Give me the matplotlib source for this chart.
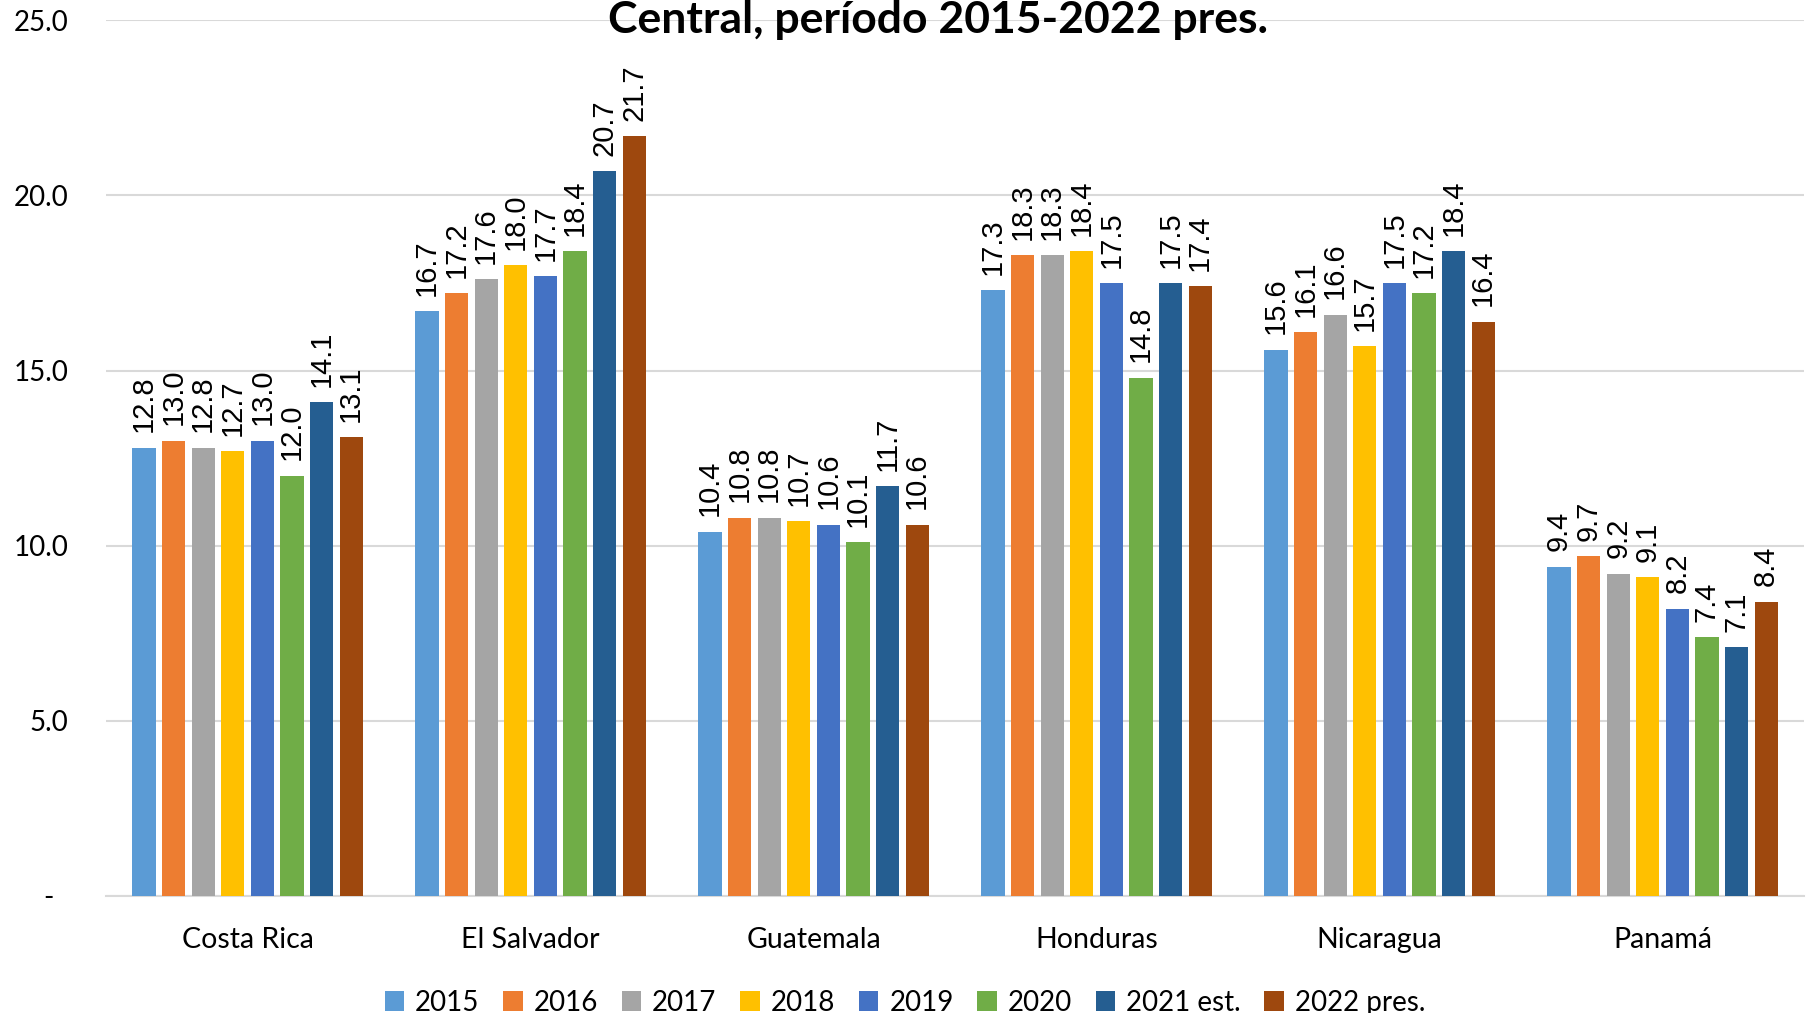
import numpy as np
import matplotlib.pyplot as plt

plt.rcParams['font.family'] = ['Lato', 'DejaVu Sans']

countries = ['Costa Rica', 'El Salvador', 'Guatemala', 'Honduras', 'Nicaragua', 'Panamá']
years = ['2015', '2016', '2017', '2018', '2019', '2020', '2021 est.', '2022 pres.']

v2015 = [12.8, 16.7, 10.4, 17.3, 15.6, 9.4]
v2016 = [13.0, 17.2, 10.8, 18.3, 16.1, 9.7]
v2017 = [12.8, 17.6, 10.8, 18.3, 16.6, 9.2]
v2018 = [12.7, 18.0, 10.7, 18.4, 15.7, 9.1]
v2019 = [13.0, 17.7, 10.6, 17.5, 17.5, 8.2]
v2020 = [12.0, 18.4, 10.1, 14.8, 17.2, 7.4]
v2021 = [14.1, 20.7, 11.7, 17.5, 18.4, 7.1]
v2022 = [13.1, 21.7, 10.6, 17.4, 16.4, 8.4]
series = [v2015, v2016, v2017, v2018, v2019, v2020, v2021, v2022]

colors = ['#5B9BD5', '#ED7D31', '#A5A5A5', '#FFC000', '#4472C4', '#70AD47', '#255E91', '#9E480E']

yticks = [0, 5, 10, 15, 20, 25]
ytick_labels = ['-  ', '5.0', '10.0', '15.0', '20.0', '25.0']

fig = plt.figure(figsize=(18.10, 10.13), dpi=100)
ax = fig.add_axes([0.0586, 0.1155, 0.9381, 0.8645])

x = np.arange(len(countries))
step = 0.1046
width = 0.082
for i, vals in enumerate(series):
    pos = x + (i - 3.5) * step
    bars = ax.bar(pos, vals, width, color=colors[i], label=years[i], zorder=3)
    for b, v in zip(bars, vals):
        ax.annotate(f'{v:.1f}', (b.get_x() + b.get_width() / 2, v), xytext=(0, 11),
                    textcoords='offset points', rotation=90, ha='center', va='bottom',
                    fontsize=21, family=['Liberation Sans', 'DejaVu Sans'], zorder=4)

ax.set_xlim(-0.5, len(countries) - 0.5)
ax.set_ylim(0, 25)
ax.set_yticks(yticks)
ax.set_yticklabels(ytick_labels, fontsize=20)
ax.set_xticks(x)
ax.set_xticklabels(countries, fontsize=20.5)
ax.tick_params(axis='x', length=0, pad=22)
ax.tick_params(axis='y', length=0, pad=27)
ax.grid(axis='y', color='#D9D9D9', linewidth=1.5, zorder=0)
for s in ['top', 'right', 'left']:
    ax.spines[s].set_visible(False)
ax.spines['bottom'].set_color('#D9D9D9')
ax.spines['bottom'].set_linewidth(1.5)

fig.text(0.518, 0.980, 'Central, período 2015-2022 pres.', ha='center', va='center',
         fontsize=32, fontweight='bold')

fig.legend(loc='center', bbox_to_anchor=(0.5, 0.010), ncol=8, frameon=False, fontsize=20,
           handlelength=0.7, handleheight=0.7, handletextpad=0.4, columnspacing=0.85)

fig.savefig('out.png')
